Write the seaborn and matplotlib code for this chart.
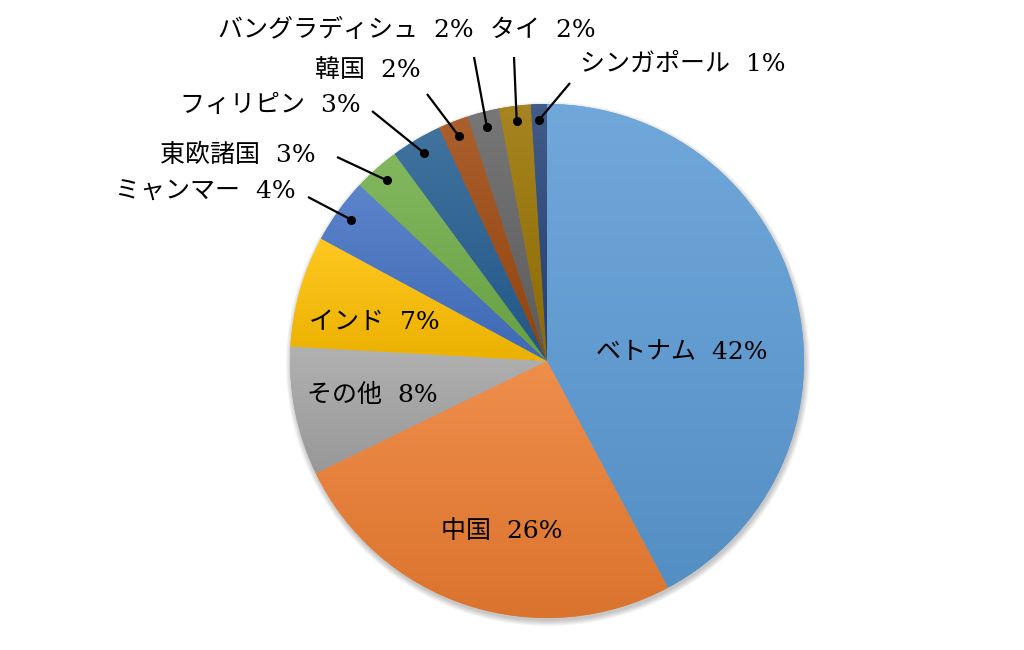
import numpy as np
import matplotlib
matplotlib.use("Agg")
import matplotlib.pyplot as plt
import matplotlib.colors as mcolors
from matplotlib.patches import Circle
import seaborn as sns

# Data (share in percent), clockwise from 12 o'clock
countries = ['ベトナム', '中国', 'その他', 'インド', 'ミャンマー', '東欧諸国',
             'フィリピン', '韓国', 'バングラディシュ', 'タイ', 'シンガポール']
shares = [42.2, 25.6, 8.1, 7.0, 4.1, 2.9, 3.2, 1.9, 2.0, 2.0, 1.0]
pct_labels = ['42%', '26%', '8%', '7%', '4%', '3%', '3%', '2%', '2%', '2%', '1%']

colors = ['#5B9BD5', '#ED7D31', '#A5A5A5', '#FFC000', '#4472C4', '#70AD47',
          '#255E91', '#9E480E', '#636363', '#997300', '#264478']

sns.set_theme(style='white')
plt.rcParams['font.family'] = ['DejaVu Serif', 'Noto Sans CJK JP']

W, H = 1024, 650


def px(x, y):
    # pixel position (from top-left) -> data coords
    return x, H - y


cx, cy = px(547, 361)
R = 257

fig = plt.figure(figsize=(W / 100, H / 100), dpi=100)
ax = fig.add_axes([0, 0, 1, 1])

# soft shadow behind the pie
for k in range(6):
    ax.add_patch(Circle((cx + 1, cy - 3), R + k, color='black',
                        alpha=0.04, lw=0, zorder=0))

wedges, _ = ax.pie(shares, colors=sns.color_palette(colors), startangle=90,
                   counterclock=False, center=(cx, cy), radius=R,
                   wedgeprops=dict(linewidth=0))

# vertical gradient on each wedge (lighter at top, darker at bottom)
for w, c in zip(wedges, colors):
    base = np.array(mcolors.to_rgb(c))
    top = base + (1 - base) * 0.13
    bot = base * 0.92
    t = np.linspace(0, 1, 256)[:, None]
    grad = (bot * (1 - t) + top * t)[:, None, :]
    ext = w.get_path().get_extents()
    im = ax.imshow(grad, extent=(ext.x0, ext.x1, ext.y0, ext.y1), origin='lower',
                   aspect='auto', zorder=2, interpolation='bilinear')
    im.set_clip_path(w)
    w.set_zorder(1)

# labels: inside (big slices) and outside with leader lines
label_pos = {
    'ベトナム': (682, 353),
    '中国': (502, 531),
    'その他': (372, 396),
    'インド': (374, 322),
    'ミャンマー': (205, 192),
    '東欧諸国': (238, 155),
    'フィリピン': (270, 106),
    '韓国': (368, 70),
    'バングラディシュ': (346, 30),
    'タイ': (543, 30),
    'シンガポール': (683, 64),
}
leader_end = {
    'ミャンマー': (308, 197),
    '東欧諸国': (337, 157),
    'フィリピン': (372, 111),
    '韓国': (427, 94),
    'バングラディシュ': (474, 57),
    'タイ': (514, 57),
    'シンガポール': (570, 83),
}

cum = np.cumsum([0] + shares[:-1])
total = sum(shares)
for name, pct, start, s in zip(countries, pct_labels, cum, shares):
    lx, ly = px(*label_pos[name])
    ax.text(lx, ly, f'{name}  {pct}', ha='center', va='center',
            fontsize=18, color='black', zorder=5)
    if name in leader_end:
        mid = np.deg2rad(90 - (start + s / 2) / total * 360)
        dx, dy = cx + 0.94 * R * np.cos(mid), cy + 0.94 * R * np.sin(mid)
        ex, ey = px(*leader_end[name])
        ax.plot([dx, ex], [dy, ey], color='black', lw=1.6, zorder=4,
                solid_capstyle='butt')
        ax.plot(dx, dy, 'o', color='black', ms=5.5, zorder=4)

ax.set_xlim(0, W)
ax.set_ylim(0, H)
ax.set_aspect('auto')
ax.axis('off')

fig.savefig('out.png', dpi=100, facecolor='white')
